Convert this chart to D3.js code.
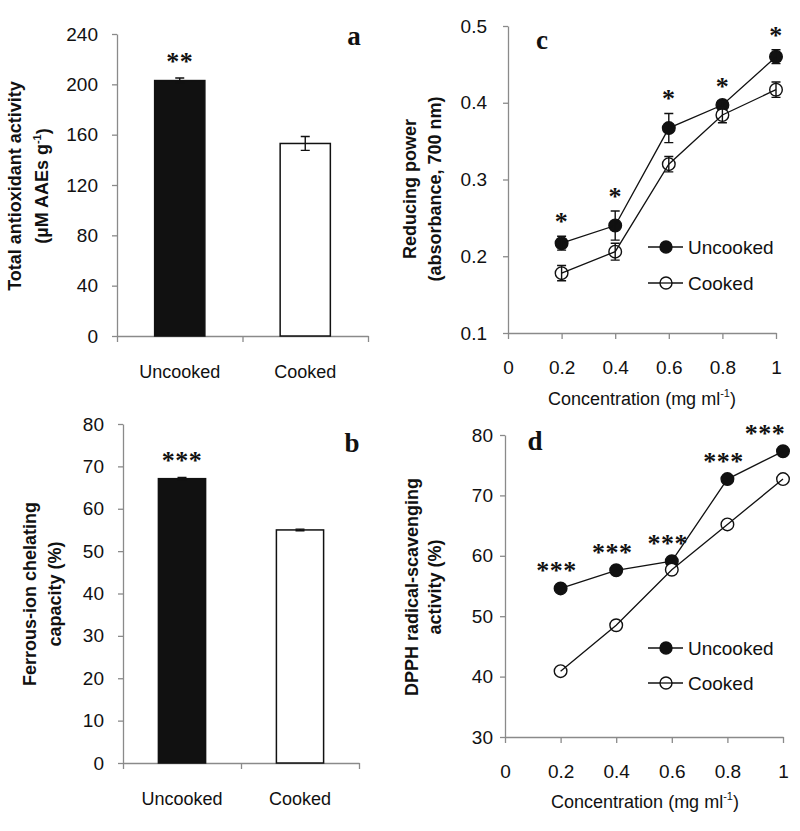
<!DOCTYPE html>
<html>
<head>
<meta charset="utf-8">
<script src="https://cdn.jsdelivr.net/npm/d3@7"></script>
<style>
  body { margin: 0; background: #fff; }
  svg text { font-family: "Liberation Sans", Arial, sans-serif; }
  svg text.serif { font-family: "Liberation Serif", "DejaVu Serif", "Times New Roman", serif; }
</style>
</head>
<body>
<div id="chart"></div>
<script>
// ---- data ----
const categories = ["Uncooked", "Cooked"];
const antioxidant = [203, 153];
const antioxidantErr = [2, 5.5];
const antioxidantSig = ["**", ""];
const antioxidantTicks = [0, 40, 80, 120, 160, 200, 240];

const chelating = [67.1, 55.0];
const chelatingErr = [0.3, 0.2];
const chelatingSig = ["***", ""];
const chelatingTicks = [0, 10, 20, 30, 40, 50, 60, 70, 80];

const concentrations = [0.2, 0.4, 0.6, 0.8, 1.0];
const concTicks = [0, 0.2, 0.4, 0.6, 0.8, 1];

const reducingUncooked = [0.217, 0.240, 0.367, 0.397, 0.460];
const reducingUncookedErr = [0.009, 0.019, 0.019, 0.005, 0.009];
const reducingCooked = [0.178, 0.206, 0.320, 0.384, 0.417];
const reducingCookedErr = [0.010, 0.011, 0.010, 0.010, 0.010];
const reducingSig = ["*", "*", "*", "*", "*"];
const reducingTicks = [0.1, 0.2, 0.3, 0.4, 0.5];

const dpphUncooked = [54.6, 57.6, 59.1, 72.7, 77.3];
const dpphCooked = [40.9, 48.5, 57.7, 65.2, 72.7];
const dpphSig = ["***", "***", "***", "***", "***"];
const dpphTicks = [30, 40, 50, 60, 70, 80];

const AXIS = "#8a8a8a";
const INK = "#111";

const svg = d3.select("#chart")
  .append("svg")
  .attr("width", 800)
  .attr("height", 831);

svg.append("rect").attr("width", 800).attr("height", 831).attr("fill", "#fff");

function styleAxis(g, size = 19) {
  g.attr("font-family", null).attr("font-size", size);
  g.select(".domain").attr("stroke", AXIS).attr("stroke-width", 1.3);
  g.selectAll(".tick line").attr("stroke", AXIS).attr("stroke-width", 1.3);
  g.selectAll(".tick text").attr("fill", INK);
}

// two-line rotated bold title; lines = [[text, x, sup?], ...]
function yTitle(lines, cy) {
  lines.forEach(([txt, x, sup]) => {
    const t = svg.append("text")
      .attr("transform", `translate(${x},${cy}) rotate(-90)`)
      .attr("text-anchor", "middle")
      .attr("dy", "0.35em")
      .attr("font-size", 18)
      .attr("font-weight", "bold")
      .attr("fill", INK);
    t.append("tspan").text(txt);
    if (sup) {
      t.append("tspan").attr("font-size", 11).attr("dy", "-0.7em").text(sup);
      t.append("tspan").attr("dy", "0.45em").text(")");
    }
  });
}

function panelLetter(letter, x, y) {
  svg.append("text")
    .attr("class", "serif")
    .attr("x", x).attr("y", y)
    .attr("text-anchor", "middle")
    .attr("font-weight", "bold")
    .attr("font-size", 27)
    .attr("fill", INK)
    .text(letter);
}

function stars(txt, x, cy) {
  svg.append("text")
    .attr("class", "serif")
    .attr("x", x).attr("y", cy + 12)
    .attr("text-anchor", "middle")
    .attr("font-size", 26)
    .attr("font-weight", "bold")
    .attr("letter-spacing", 0.5)
    .attr("fill", INK)
    .text(txt);
}

function errorBar(x, yHi, yLo, cap) {
  svg.append("path")
    .attr("d", `M${x},${yHi}V${yLo}M${x - cap},${yHi}H${x + cap}M${x - cap},${yLo}H${x + cap}`)
    .attr("stroke", INK)
    .attr("stroke-width", 1.4)
    .attr("fill", "none");
}

function barPanel(p) {
  const x = d3.scaleBand()
    .domain(categories)
    .range([p.x0, p.x1])
    .paddingInner(0.6)
    .paddingOuter(0.3);
  const y = d3.scaleLinear().domain(p.domain).range([p.yBottom, p.yTop]);

  // boundary ticks like the original (between categories)
  const xb = d3.scaleLinear().domain([0, categories.length]).range([p.x0, p.x1]);
  svg.append("g")
    .attr("transform", `translate(0,${p.yBottom})`)
    .call(d3.axisBottom(xb).tickValues(d3.range(categories.length + 1)).tickFormat("").tickSize(6).tickSizeOuter(0))
    .call(styleAxis);

  svg.append("g")
    .attr("transform", `translate(0,${p.yBottom})`)
    .call(d3.axisBottom(x).tickSize(0).tickPadding(29))
    .call(g => styleAxis(g, 18))
    .call(g => g.select(".domain").remove());

  svg.append("g")
    .attr("transform", `translate(${p.x0},0)`)
    .call(d3.axisLeft(y).tickValues(p.ticks).tickSize(5).tickSizeOuter(0).tickPadding(p.tickPad))
    .call(styleAxis);

  categories.forEach((c, i) => {
    svg.append("rect")
      .attr("x", x(c))
      .attr("y", y(p.values[i]))
      .attr("width", x.bandwidth())
      .attr("height", y(p.domain[0]) - y(p.values[i]))
      .attr("fill", i === 0 ? INK : "#fff")
      .attr("stroke", INK)
      .attr("stroke-width", 1.5);
    const cx = x(c) + x.bandwidth() / 2;
    errorBar(cx, y(p.values[i] + p.errors[i]), y(p.values[i] - p.errors[i]), 4.5);
    if (p.sig[i]) stars(p.sig[i], cx, y(p.values[i] + p.errors[i]) - 20);
  });
}

function linePanel(p) {
  const x = d3.scaleLinear().domain([0, 1]).range([p.x0, p.x1]);
  const y = d3.scaleLinear().domain(p.domain).range([p.yBottom, p.yTop]);

  svg.append("g")
    .attr("transform", `translate(0,${p.yBottom})`)
    .call(d3.axisBottom(x).tickValues(concTicks).tickFormat(d3.format("~g")).tickSize(6).tickSizeOuter(0).tickPadding(22))
    .call(styleAxis);

  svg.append("g")
    .attr("transform", `translate(${p.x0},0)`)
    .call(d3.axisLeft(y).tickValues(p.ticks).tickFormat(d3.format("~g")).tickSize(5).tickSizeOuter(0).tickPadding(p.tickPad))
    .call(styleAxis);

  const line = d3.line().x((d, i) => x(concentrations[i])).y(d => y(d));

  p.series.forEach(s => {
    svg.selectAll(null)
      .data(s.values)
      .join("circle")
      .attr("cx", (d, i) => x(concentrations[i]))
      .attr("cy", d => y(d))
      .attr("r", 6.3)
      .attr("fill", s.filled ? INK : "#fff")
      .attr("stroke", INK)
      .attr("stroke-width", 1.4);
  });

  p.series.forEach(s => {
    svg.append("path")
      .datum(s.values)
      .attr("d", line)
      .attr("fill", "none")
      .attr("stroke", INK)
      .attr("stroke-width", 1.3);
    if (s.errors) {
      s.values.forEach((v, i) => {
        errorBar(x(concentrations[i]), y(v + s.errors[i]), y(v - s.errors[i]), 4.5);
      });
    }
  });

  // significance marks above the uncooked series
  const top = p.series[0];
  p.sig.forEach((txt, i) => {
    const v = top.values[i] + (top.errors ? top.errors[i] : 0);
    const sx = Math.min(x(concentrations[i]) + p.sigShift, p.x1 - p.sigEdge);
    stars(txt, sx, y(v) - p.sigGap);
  });

  // legend
  p.series.forEach((s, k) => {
    const ly = p.legendY + k * p.legendStep;
    svg.append("line")
      .attr("x1", p.legendX).attr("x2", p.legendX + 35)
      .attr("y1", ly).attr("y2", ly)
      .attr("stroke", INK).attr("stroke-width", 1.3);
    svg.append("circle")
      .attr("cx", p.legendX + 18).attr("cy", ly).attr("r", 6)
      .attr("fill", s.filled ? INK : "#fff")
      .attr("stroke", INK).attr("stroke-width", 1.4);
    if (!s.filled) {
      svg.append("line")
        .attr("x1", p.legendX + 12).attr("x2", p.legendX + 24)
        .attr("y1", ly).attr("y2", ly)
        .attr("stroke", INK).attr("stroke-width", 1.3);
    }
    svg.append("text")
      .attr("x", p.legendX + 40).attr("y", ly)
      .attr("dy", "0.36em")
      .attr("font-size", 19)
      .attr("fill", INK)
      .text(s.name);
  });

  // x title
  const t = svg.append("text")
    .attr("x", p.titleX).attr("y", p.titleY)
    .attr("text-anchor", "middle")
    .attr("font-size", 18)
    .attr("fill", INK);
  t.append("tspan").text("Concentration (mg ml");
  t.append("tspan").attr("font-size", 11).attr("dy", "-0.75em").text("-1");
  t.append("tspan").attr("dy", "0.48em").text(")");
}

// ---- panel a ----
barPanel({
  values: antioxidant, errors: antioxidantErr, sig: antioxidantSig,
  ticks: antioxidantTicks, domain: [0, 240],
  x0: 117, x1: 368, yTop: 34, yBottom: 336, tickPad: 14
});
yTitle([["Total antioxidant activity", 15], ["(µM AAEs g", 42, "-1"]], 186);
panelLetter("a", 354, 45);

// ---- panel b ----
barPanel({
  values: chelating, errors: chelatingErr, sig: chelatingSig,
  ticks: chelatingTicks, domain: [0, 80],
  x0: 123, x1: 359, yTop: 424, yBottom: 763, tickPad: 14
});
yTitle([["Ferrous-ion chelating", 30], ["capacity (%)", 55]], 594);
panelLetter("b", 352, 452);

// ---- panel c ----
linePanel({
  domain: [0.1, 0.5], ticks: reducingTicks,
  x0: 508, x1: 776, yTop: 26, yBottom: 333, tickPad: 16,
  series: [
    { name: "Uncooked", values: reducingUncooked, errors: reducingUncookedErr, filled: true },
    { name: "Cooked", values: reducingCooked, errors: reducingCookedErr, filled: false }
  ],
  sig: reducingSig, sigGap: 18, sigShift: 0, sigEdge: -10,
  legendX: 648, legendY: 247, legendStep: 36,
  titleX: 642, titleY: 405
});
yTitle([["Reducing power", 410], ["(absorbance, 700 nm)", 435]], 189);
panelLetter("c", 542, 49);

// ---- panel d ----
linePanel({
  domain: [30, 80], ticks: dpphTicks,
  x0: 505, x1: 783, yTop: 435, yBottom: 737, tickPad: 7,
  series: [
    { name: "Uncooked", values: dpphUncooked, filled: true },
    { name: "Cooked", values: dpphCooked, filled: false }
  ],
  sig: dpphSig, sigGap: 21, sigShift: -4, sigEdge: 18,
  legendX: 648, legendY: 648, legendStep: 35,
  titleX: 645, titleY: 808
});
yTitle([["DPPH radical-scavenging", 412], ["activity (%)", 435]], 587);
panelLetter("d", 535, 450);
</script>
</body>
</html>
